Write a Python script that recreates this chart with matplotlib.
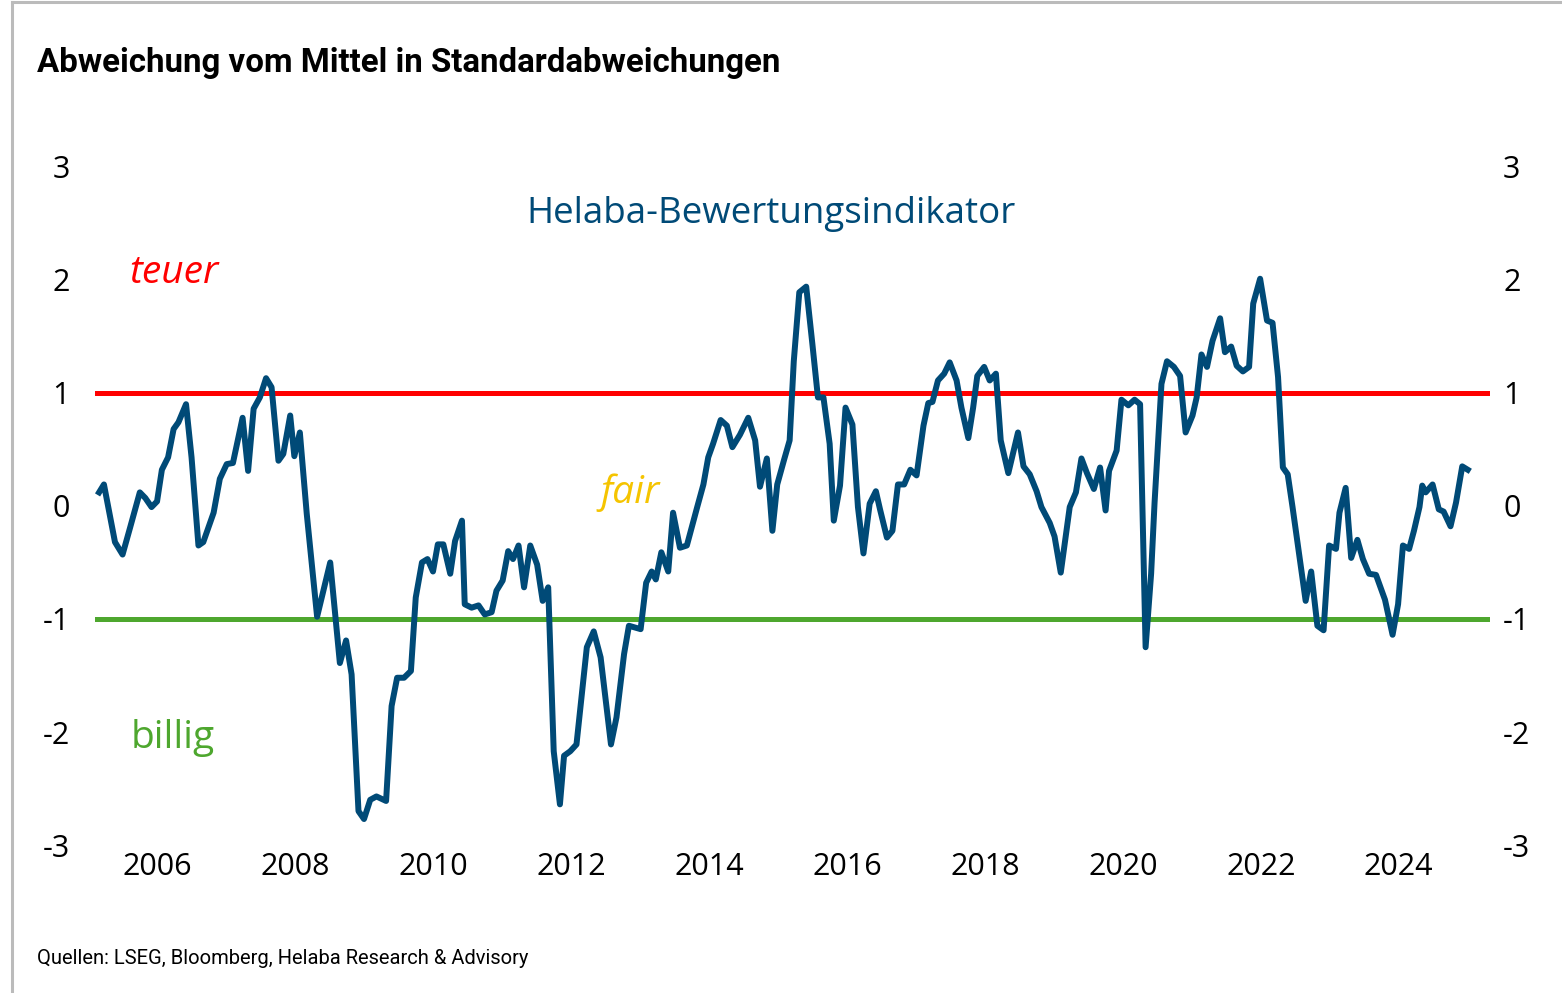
import matplotlib
matplotlib.use("Agg")
import matplotlib.pyplot as plt
from matplotlib.lines import Line2D

# decimal year, value in standard deviations
jahre = [2005.16, 2005.23, 2005.39, 2005.50, 2005.61, 2005.75, 2005.83, 2005.92, 2006.00, 2006.07,
         2006.16, 2006.24, 2006.31, 2006.42, 2006.50, 2006.60, 2006.67, 2006.82, 2006.91, 2007.01,
         2007.10, 2007.24, 2007.32, 2007.40, 2007.49, 2007.58, 2007.66, 2007.76, 2007.83, 2007.93,
         2007.99, 2008.07, 2008.17, 2008.32, 2008.51, 2008.65, 2008.74, 2008.82, 2008.92, 2009.00,
         2009.09, 2009.18, 2009.32, 2009.40, 2009.48, 2009.58, 2009.68, 2009.75, 2009.84, 2009.92,
         2010.00, 2010.07, 2010.15, 2010.25, 2010.32, 2010.42, 2010.46, 2010.56, 2010.66, 2010.75,
         2010.85, 2010.92, 2011.01, 2011.09, 2011.16, 2011.24, 2011.32, 2011.41, 2011.51, 2011.59,
         2011.67, 2011.75, 2011.84, 2011.90, 2011.99, 2012.08, 2012.23, 2012.33, 2012.43, 2012.58,
         2012.66, 2012.77, 2012.84, 2013.01, 2013.09, 2013.17, 2013.23, 2013.31, 2013.41, 2013.48,
         2013.58, 2013.68, 2013.83, 2013.92, 2013.99, 2014.06, 2014.17, 2014.26, 2014.34, 2014.45,
         2014.57, 2014.67, 2014.74, 2014.84, 2014.92, 2014.99, 2015.09, 2015.17, 2015.23, 2015.31,
         2015.41, 2015.50, 2015.58, 2015.66, 2015.75, 2015.81, 2015.90, 2015.98, 2016.08, 2016.16,
         2016.24, 2016.33, 2016.42, 2016.48, 2016.58, 2016.66, 2016.74, 2016.83, 2016.92, 2017.01,
         2017.11, 2017.18, 2017.24, 2017.32, 2017.41, 2017.49, 2017.59, 2017.66, 2017.76, 2017.83,
         2017.89, 2017.99, 2018.07, 2018.16, 2018.23, 2018.34, 2018.48, 2018.56, 2018.65, 2018.75,
         2018.82, 2018.94, 2019.01, 2019.10, 2019.17, 2019.23, 2019.32, 2019.40, 2019.48, 2019.58,
         2019.67, 2019.75, 2019.80, 2019.91, 2019.98, 2020.08, 2020.17, 2020.25, 2020.33, 2020.41,
         2020.46, 2020.56, 2020.64, 2020.74, 2020.83, 2020.91, 2021.01, 2021.07, 2021.14, 2021.22,
         2021.30, 2021.41, 2021.48, 2021.57, 2021.65, 2021.74, 2021.83, 2021.89, 2021.99, 2022.09,
         2022.17, 2022.25, 2022.32, 2022.39, 2022.46, 2022.65, 2022.73, 2022.82, 2022.91, 2022.99,
         2023.09, 2023.14, 2023.23, 2023.31, 2023.40, 2023.48, 2023.57, 2023.67, 2023.80, 2023.91,
         2023.99, 2024.06, 2024.15, 2024.22, 2024.30, 2024.34, 2024.39, 2024.49, 2024.58, 2024.65,
         2024.75, 2024.83, 2024.92, 2025.00]

indikator = [0.12, 0.19, -0.32, -0.43, -0.19, 0.12, 0.07, -0.01, 0.04, 0.32,
             0.43, 0.68, 0.74, 0.90, 0.43, -0.35, -0.32, -0.06, 0.24, 0.37,
             0.38, 0.78, 0.31, 0.86, 0.96, 1.13, 1.05, 0.40, 0.46, 0.80,
             0.44, 0.65, -0.07, -0.98, -0.50, -1.39, -1.19, -1.49, -2.70, -2.77,
             -2.60, -2.57, -2.61, -1.77, -1.52, -1.52, -1.46, -0.81, -0.50, -0.47,
             -0.58, -0.34, -0.34, -0.60, -0.31, -0.13, -0.87, -0.90, -0.88, -0.96,
             -0.94, -0.75, -0.66, -0.40, -0.47, -0.35, -0.72, -0.35, -0.52, -0.84,
             -0.72, -2.17, -2.64, -2.21, -2.17, -2.11, -1.25, -1.11, -1.34, -2.11,
             -1.87, -1.31, -1.06, -1.09, -0.68, -0.58, -0.65, -0.41, -0.58, -0.06,
             -0.37, -0.35, -0.01, 0.19, 0.43, 0.55, 0.76, 0.71, 0.52, 0.63,
             0.78, 0.58, 0.17, 0.42, -0.22, 0.19, 0.41, 0.58, 1.28, 1.89,
             1.94, 1.43, 0.96, 0.96, 0.55, -0.13, 0.18, 0.87, 0.72, -0.01,
             -0.42, 0.02, 0.13, -0.03, -0.28, -0.22, 0.19, 0.19, 0.32, 0.27,
             0.71, 0.91, 0.92, 1.11, 1.17, 1.27, 1.11, 0.87, 0.60, 0.87,
             1.15, 1.23, 1.11, 1.17, 0.58, 0.29, 0.65, 0.35, 0.28, 0.13,
             -0.01, -0.15, -0.27, -0.59, -0.28, -0.01, 0.12, 0.42, 0.29, 0.15,
             0.34, -0.04, 0.31, 0.49, 0.94, 0.89, 0.94, 0.90, -1.25, -0.60,
             0.03, 1.08, 1.28, 1.23, 1.15, 0.65, 0.80, 0.96, 1.34, 1.23,
             1.46, 1.66, 1.36, 1.41, 1.24, 1.19, 1.23, 1.79, 2.01, 1.64,
             1.62, 1.14, 0.34, 0.28, -0.01, -0.84, -0.58, -1.06, -1.10, -0.35,
             -0.38, -0.06, 0.16, -0.46, -0.30, -0.47, -0.60, -0.61, -0.83, -1.14,
             -0.87, -0.35, -0.38, -0.22, -0.01, 0.18, 0.12, 0.19, -0.03, -0.05,
             -0.18, 0.03, 0.35, 0.32]

x_ticks = [2006, 2008, 2010, 2012, 2014, 2016, 2018, 2020, 2022, 2024]
y_ticks = [-3, -2, -1, 0, 1, 2, 3]

plt.rcParams['font.family'] = ['Open Sans', 'DejaVu Sans']

blau = '#004a77'
rot = '#ff0000'
gruen = '#4ea72e'
gelb = '#f5c400'

fig = plt.figure(figsize=(15.62, 9.93), dpi=100)
ax = fig.add_axes([0.0608, 0.149, 0.893, 0.683])

ax.axhline(1, color=rot, linewidth=3.6, zorder=1)
ax.axhline(-1, color=gruen, linewidth=3.6, zorder=1)
ax.plot(jahre, indikator, color=blau, linewidth=4.3, solid_joinstyle='round', zorder=2)

ax.set_xlim(2005.10, 2025.32)
ax.set_ylim(-3, 3)
ax.set_xticks(x_ticks)
ax.set_xticklabels([str(j) for j in x_ticks])
ax.set_yticks(y_ticks)
ax.set_yticklabels([str(v) for v in y_ticks])
ax.tick_params(axis='x', length=0, pad=5, labelsize=22)
ax.tick_params(axis='y', length=0, pad=18, labelsize=22)
for s in ax.spines.values():
    s.set_visible(False)

ax2 = ax.twinx()
ax2.set_ylim(-3, 3)
ax2.set_yticks(y_ticks)
ax2.set_yticklabels([str(v) for v in y_ticks])
ax2.tick_params(axis='y', length=0, pad=9.5, labelsize=22)
for s in ax2.spines.values():
    s.set_visible(False)

ax.text(2014.90, 2.58, 'Helaba-Bewertungsindikator', color=blau, fontsize=26.5,
        ha='center', va='center')
ax.text(2006.25, 2.06, 'teuer', color=rot, fontsize=28, style='italic',
        ha='center', va='center')
ax.text(2012.86, 0.12, 'fair', color=gelb, fontsize=28, style='italic',
        ha='center', va='center')
ax.text(2006.23, -2.05, 'billig', color=gruen, fontsize=28,
        ha='center', va='center')

fig.text(37 / 1562, 1 - 63 / 993, 'Abweichung vom Mittel in Standardabweichungen',
         fontsize=23.8, fontweight='bold', family='Roboto', ha='left', va='center')
fig.text(37 / 1562, 1 - 959 / 993, 'Quellen: LSEG, Bloomberg, Helaba Research & Advisory',
         fontsize=14.5, family='Roboto', ha='left', va='center')

# grauer Rahmen oben und links
fig.add_artist(Line2D([12 / 1562, 12 / 1562], [0, 1 - 2 / 993], color='#bbbbbb', linewidth=2.2))
fig.add_artist(Line2D([12 / 1562, 1], [1 - 2 / 993, 1 - 2 / 993], color='#bbbbbb', linewidth=2.2))

fig.savefig('out.png', dpi=100)
